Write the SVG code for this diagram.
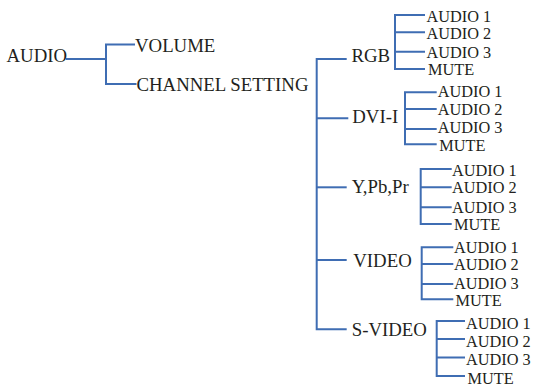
<svg xmlns="http://www.w3.org/2000/svg" width="534" height="387" viewBox="0 0 534 387">
<style>
.bg{fill:#ffffff}
.c{fill:none;stroke:#3f6db3;stroke-width:2}
.m{font-family:"Liberation Serif","Times New Roman",serif;font-size:18.8px;fill:#231f20}
.s{font-family:"Liberation Serif","Times New Roman",serif;font-size:16.3px;fill:#231f20}
</style>
<rect class="bg" x="0" y="0" width="534" height="387"/>
<g id="connectors">
<path class="c" d="M66 59H106"/>
<path class="c" d="M135 44.5H106V84H136.5"/>
<path class="c" d="M346.7 59H316.7V329.3H346.7"/>
<path class="c" d="M316.7 118.3H348.3"/>
<path class="c" d="M316.7 187.3H346.7"/>
<path class="c" d="M316.7 260H346.7"/>
<path class="c" d="M425 15H395V69H425M395 32.3H425M395 51.7H425"/>
<path class="c" d="M436.7 92.3H405V144.3H436.7M405 109H436.7M405 129H436.7"/>
<path class="c" d="M451.7 169H420.7V224H451.7M420.7 187.3H451.7M420.7 207.3H451.7"/>
<path class="c" d="M453.3 247.3H421.7V299.3H453.3M421.7 264H453.3M421.7 284H453.3"/>
<path class="c" d="M465 321H436.7V376H465M436.7 339H465M436.7 357.5H465"/>
</g>
<g id="audio"><text class="m" x="6.5" y="62">AUDIO</text></g>
<g id="volume"><text class="m" x="135" y="51.5">VOLUME</text></g>
<g id="channel"><text class="m" x="136.5" y="90.7">CHANNEL SETTING</text></g>
<g id="rgb"><text class="m" x="351.5" y="61.8">RGB</text></g>
<g id="dvi"><text class="m" x="352.3" y="122.5">DVI-I</text></g>
<g id="ypbpr"><text class="m" x="351.7" y="193.3">Y,Pb,Pr</text></g>
<g id="video"><text class="m" x="353.3" y="267.3">VIDEO</text></g>
<g id="svideo"><text class="m" x="351.7" y="335.5">S-VIDEO</text></g>
<g id="rgb-items">
<text class="s" x="426.5" y="21.5">AUDIO 1</text>
<text class="s" x="426.5" y="39.2">AUDIO 2</text>
<text class="s" x="426.5" y="57.6">AUDIO 3</text>
<text class="s" x="428" y="75.4">MUTE</text>
</g>
<g id="dvi-items">
<text class="s" x="437.7" y="97">AUDIO 1</text>
<text class="s" x="437.7" y="114.5">AUDIO 2</text>
<text class="s" x="437.7" y="133">AUDIO 3</text>
<text class="s" x="439.3" y="150.5">MUTE</text>
</g>
<g id="ypbpr-items">
<text class="s" x="452" y="175.5">AUDIO 1</text>
<text class="s" x="452" y="193">AUDIO 2</text>
<text class="s" x="452" y="212.5">AUDIO 3</text>
<text class="s" x="454" y="230">MUTE</text>
</g>
<g id="video-items">
<text class="s" x="454" y="252.5">AUDIO 1</text>
<text class="s" x="454" y="270">AUDIO 2</text>
<text class="s" x="454" y="288.6">AUDIO 3</text>
<text class="s" x="455.5" y="306.2">MUTE</text>
</g>
<g id="svideo-items">
<text class="s" x="466" y="329">AUDIO 1</text>
<text class="s" x="466" y="346.5">AUDIO 2</text>
<text class="s" x="466" y="365">AUDIO 3</text>
<text class="s" x="467.5" y="383.5">MUTE</text>
</g>
</svg>
